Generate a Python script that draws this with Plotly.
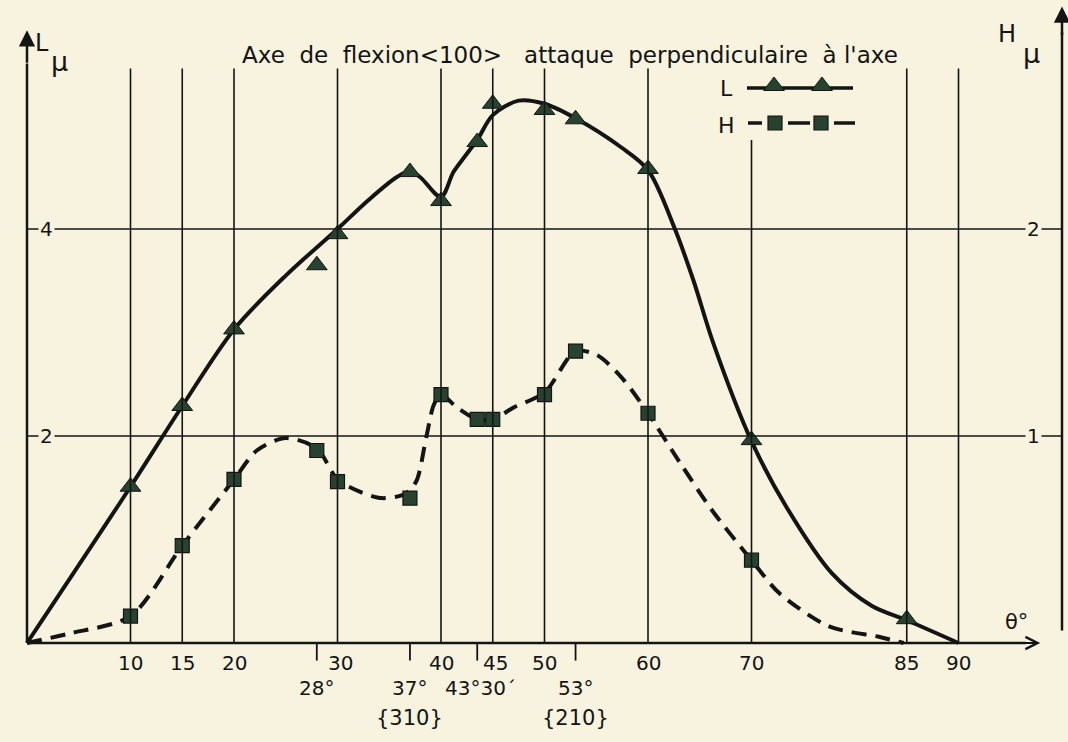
import plotly.graph_objects as go

# ---- measured points --------------------------------------------------------
theta_L = [10, 15, 20, 28, 30, 37, 40, 43.5, 45, 50, 53, 60, 70, 85]
L_vals = [1.51, 2.29, 3.03, 3.65, 3.95, 4.55, 4.27, 4.84, 5.21, 5.15, 5.06, 4.58, 1.96, 0.23]

theta_H = [10, 15, 20, 28, 30, 37, 40, 43.5, 45, 50, 53, 60, 70]
H_vals = [0.13, 0.47, 0.79, 0.93, 0.78, 0.70, 1.20, 1.08, 1.08, 1.20, 1.41, 1.11, 0.40]

# ---- hand-faired curves through the points ----------------------------------
curve_L_theta = [0, 10, 15, 20, 25, 30, 33, 35.7, 37, 38, 40, 41.2, 42.3, 43.5, 45,
                 47.5, 50, 53, 57.4, 60, 62.6, 64.4, 66.3, 70, 73.4, 77.8,
                 81.6, 85, 90]
curve_L = [0, 1.51, 2.29, 3.03, 3.55, 4.0, 4.28, 4.5, 4.56, 4.5, 4.31, 4.55, 4.7,
           4.86, 5.1, 5.24, 5.21, 5.07, 4.79, 4.57, 4.0, 3.5, 2.9, 1.95,
           1.31, 0.67, 0.36, 0.22, 0]

curve_H_theta = [0, 4, 10, 15, 20, 22.2, 25, 28, 30, 32.2, 34.3, 36.5, 37.6, 38.6,
                 39.3, 40, 41.5, 43.5, 45, 47.1, 50, 53, 55.1, 57.5, 60, 63.1, 66.2,
                 70, 72.7, 77.5, 82.3, 84.7]
curve_H = [0, 0.045, 0.13, 0.47, 0.79, 0.93, 0.99, 0.94, 0.79, 0.73, 0.70, 0.72,
           0.78, 1.0, 1.15, 1.2, 1.14, 1.08, 1.08, 1.14, 1.21, 1.41, 1.39, 1.28,
           1.11, 0.87, 0.64, 0.40, 0.24, 0.08, 0.03, 0.0]

# ---- axis annotations -------------------------------------------------------
grid_theta = [10, 15, 20, 30, 40, 45, 50, 60, 70, 85, 90]
main_tick_text = ["10", "15", "20", "30", "40", "45", "50", "60", "70", "85", "90"]
special_theta = [28, 37, 43.5, 53]
special_text = ["28°", "37°", "43°30´", "53°"]
plane_theta = [37, 53]
plane_text = ["{310}", "{210}"]
L_grid = [4, 2]
H_grid = [2, 1]

TITLE = "Axe  de  flexion<100>   attaque  perpendiculaire  à l'axe"

BG = "#f7f3df"
INK = "#141414"
MARK = "#27432f"
FONT = "DejaVu Sans"

# pixel frame: theta 0 at x=27 px, 10.35 px/deg; L 0 at y=643 px, 103.5 px/unit
W, H = 1068, 742
PX_DEG, X0PX = 10.35, 27
PX_L, Y0PX = 103.5, 643
xr = [-X0PX / PX_DEG, (W - X0PX) / PX_DEG]
yr = [-(H - Y0PX) / PX_L, Y0PX / PX_L]

fig = go.Figure()

# curves
fig.add_trace(go.Scatter(x=curve_L_theta, y=curve_L, mode="lines",
                         line=dict(color=INK, width=4, shape="spline", smoothing=0.9),
                         hoverinfo="skip"))
fig.add_trace(go.Scatter(x=curve_H_theta, y=curve_H, mode="lines", yaxis="y2",
                         line=dict(color=INK, width=4, shape="spline", smoothing=0.8,
                                   dash="15px,9px"),
                         hoverinfo="skip"))
# markers
fig.add_trace(go.Scatter(x=theta_L, y=L_vals, mode="markers", name="L",
                         marker=dict(symbol="triangle-up", size=18, color=MARK,
                                     line=dict(color=INK, width=1))))
fig.add_trace(go.Scatter(x=theta_H, y=H_vals, mode="markers", name="H", yaxis="y2",
                         marker=dict(symbol="square", size=14, color=MARK,
                                     line=dict(color=INK, width=1.2))))

shapes = []
GRID_TOP = 5.55
for t in grid_theta:
    top = 4.86 if t == 70 else GRID_TOP
    shapes.append(dict(type="line", xref="x", yref="y", x0=t, x1=t, y0=0, y1=top,
                       line=dict(color=INK, width=1.6)))
RIGHT_AXIS = 100.0
for v in L_grid:
    shapes.append(dict(type="line", xref="x", yref="y", x0=0, x1=RIGHT_AXIS, y0=v, y1=v,
                       line=dict(color=INK, width=1.6)))
for t in special_theta:
    shapes.append(dict(type="line", xref="x", yref="y", x0=t, x1=t, y0=0, y1=-0.17,
                       line=dict(color=INK, width=1.8)))
# axes
shapes.append(dict(type="line", xref="x", yref="y", x0=0, x1=0, y0=0, y1=5.6,
                   line=dict(color=INK, width=2.5)))
shapes.append(dict(type="line", xref="x", yref="y", x0=0, x1=96.5, y0=0, y1=0,
                   line=dict(color=INK, width=2.5)))
shapes.append(dict(type="line", xref="x", yref="y", x0=RIGHT_AXIS, x1=RIGHT_AXIS,
                   y0=0.12, y1=5.9, line=dict(color=INK, width=2.5)))

ann = []
# arrow heads
ann.append(dict(x=0, y=5.92, xref="x", yref="y", ax=0, ay=34, showarrow=True,
                arrowhead=2, arrowsize=1.3, arrowwidth=2.5, arrowcolor=INK, text=""))
ann.append(dict(x=RIGHT_AXIS, y=6.15, xref="x", yref="y", ax=0, ay=30, showarrow=True,
                arrowhead=2, arrowsize=1.3, arrowwidth=2.5, arrowcolor=INK, text=""))
ann.append(dict(x=97.9, y=0, xref="x", yref="y", ax=-20, ay=0, showarrow=True,
                arrowhead=5, arrowsize=1.2, arrowwidth=2, arrowcolor=INK, text=""))

def label(x, y, text, size=20, xanchor="center", yanchor="middle", bg=None, **kw):
    d = dict(x=x, y=y, xref="x", yref="y", text=text, showarrow=False,
             font=dict(family=FONT, size=size, color=INK),
             xanchor=xanchor, yanchor=yanchor)
    if bg:
        d.update(bgcolor=bg, borderpad=1)
    d.update(kw)
    return d

for t, s in zip(grid_theta, main_tick_text):
    ann.append(label(t, -0.19, s, xshift=3 if s in ("30", "45") else 0))
for t, s in zip(special_theta, special_text):
    ann.append(label(t, -0.43, s, xshift=3 if s == "43°30´" else 0))
for t, s in zip(plane_theta, plane_text):
    ann.append(label(t, -0.72, s, size=21))

# y tick labels sitting on the grid lines
for v in L_grid:
    ann.append(label(1.9, v, str(v), bg=BG))
for v, hv in zip(L_grid, H_grid):
    ann.append(label(97.2, v, str(hv), bg=BG))

# axis names
ann.append(label(0.6, 5.8, "L", size=24, xanchor="left"))
ann.append(label(2.1, 5.62, "μ", size=27, xanchor="left"))
ann.append(label(93.6, 5.88, "H", size=24, xanchor="left"))
ann.append(label(96.0, 5.7, "μ", size=27, xanchor="left"))
ann.append(label(95.6, 0.2, "θ°", size=21))

# title
ann.append(dict(x=570, y=55, xref="x3", yref="y3", text=TITLE, showarrow=False,
                font=dict(family=FONT, size=23, color=INK)))

# legend key drawn in a pixel overlay
key_line_x = [747, 853]
key_tri_x = [774, 822]
key_sq_x = [775, 821]
fig.add_trace(go.Scatter(x=key_line_x, y=[88, 88], xaxis="x3", yaxis="y3", mode="lines",
                         line=dict(color=INK, width=3.5), hoverinfo="skip"))
fig.add_trace(go.Scatter(x=key_tri_x, y=[86, 86], xaxis="x3", yaxis="y3", mode="markers",
                         marker=dict(symbol="triangle-up", size=18, color=MARK,
                                     line=dict(color=INK, width=1)), hoverinfo="skip"))
for xa, xb in [(748, 762), (788, 810), (834, 855)]:
    fig.add_trace(go.Scatter(x=[xa, xb], y=[123, 123], xaxis="x3", yaxis="y3", mode="lines",
                             line=dict(color=INK, width=3.5), hoverinfo="skip"))
fig.add_trace(go.Scatter(x=key_sq_x, y=[123, 123], xaxis="x3", yaxis="y3", mode="markers",
                         marker=dict(symbol="square", size=14, color=MARK,
                                     line=dict(color=INK, width=1.2)), hoverinfo="skip"))
ann.append(dict(x=726, y=88, xref="x3", yref="y3", text="L", showarrow=False,
                font=dict(family=FONT, size=22, color=INK)))
ann.append(dict(x=726, y=125, xref="x3", yref="y3", text="H", showarrow=False,
                font=dict(family=FONT, size=22, color=INK)))

fig.update_layout(
    width=W, height=H, autosize=False,
    margin=dict(l=0, r=0, t=0, b=0),
    paper_bgcolor=BG, plot_bgcolor=BG,
    showlegend=False,
    xaxis=dict(range=xr, visible=False, fixedrange=True),
    yaxis=dict(range=yr, visible=False, fixedrange=True),
    yaxis2=dict(range=[yr[0] / 2, yr[1] / 2], overlaying="y", visible=False,
                fixedrange=True),
    xaxis3=dict(range=[0, W], overlaying="x", anchor="y3", visible=False),
    yaxis3=dict(range=[H, 0], overlaying="y", anchor="x3", visible=False),
    shapes=shapes,
    annotations=ann,
)

fig.write_html("out.html")
